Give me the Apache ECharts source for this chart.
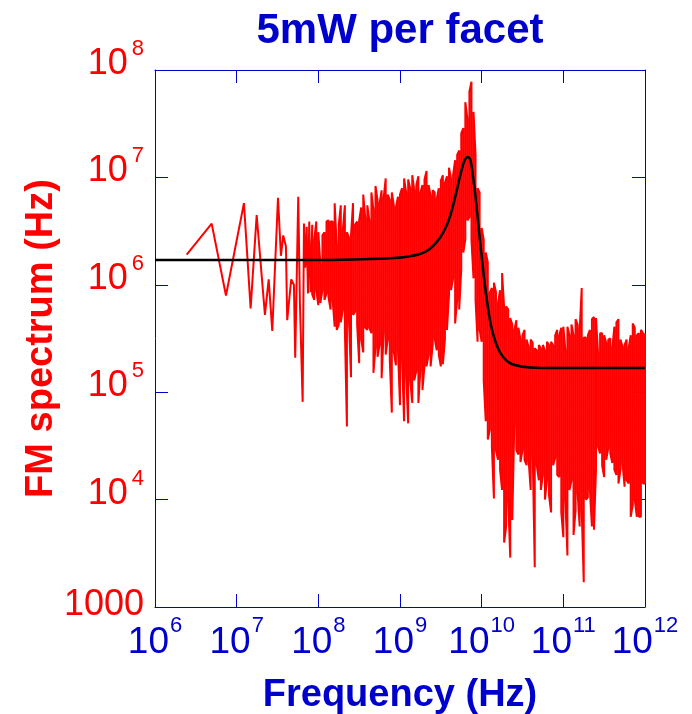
<!DOCTYPE html>
<html>
<head>
<meta charset="utf-8">
<script src="https://cdn.jsdelivr.net/npm/echarts@6/dist/echarts.min.js"></script>
<style>html,body{margin:0;padding:0;background:#fff;}#c{width:692px;height:714px;}</style>
</head>
<body>
<div id="c"></div>
<script>
// ---- data (log10 values) ----
// sparse low-frequency points: log10(frequency), log10(FM spectrum)
var sparseLogF = [6.388,6.694,6.869,7.089,7.171,7.245,7.346,7.392,7.436,7.506,7.542,7.570,7.603,7.619,7.668,7.701,7.717,7.754,7.775,7.808,7.824,7.840,7.857,7.873,7.889,7.905];
var sparseLogV = [6.28,6.57,5.90,6.76,5.78,6.65,5.72,6.05,5.57,6.81,6.27,6.46,6.36,5.67,6.05,6.00,5.32,6.82,5.81,4.91,6.57,6.16,6.54,5.92,6.59,5.93];

// dense region: per frequency bin, upper and lower extent of the noisy trace
var denseLogF = [7.925,7.95,7.975,
8.000,8.025,8.050,8.075,8.100,8.125,8.150,8.175,8.200,8.225,8.250,8.275,8.300,8.325,8.350,8.375,8.400,8.425,8.450,8.475,8.500,8.525,8.550,8.575,8.600,8.625,8.650,8.675,8.700,8.725,8.750,8.775,8.800,8.825,8.850,8.875,8.900,8.925,8.950,8.975,
9.000,9.025,9.050,9.075,9.100,9.125,9.150,9.175,9.200,9.225,9.250,9.275,9.300,9.325,9.350,9.375,9.400,9.425,9.450,9.475,9.500,9.525,9.550,9.575,9.600,9.625,9.650,9.675,9.700,9.725,9.750,9.775,9.800,9.825,9.850,9.875,9.900,9.925,9.950,9.975,
10.000,10.025,10.050,10.075,10.100,10.125,10.150,10.175,10.200,10.225,10.250,10.275,10.300,10.325,10.350,10.375,10.400,10.425,10.450,10.475,10.500,10.525,10.550,10.575,10.600,10.625,10.650,10.675,10.700,10.725,10.750,10.775,10.800,10.825,10.850,10.875,10.900,10.925,10.950,10.975,
11.000,11.025,11.050,11.075,11.100,11.125,11.150,11.175,11.200,11.225,11.250,11.275,11.300,11.325,11.350,11.375,11.400,11.425,11.450,11.475,11.500,11.525,11.550,11.575,11.600,11.625,11.650,11.675,11.700,11.725,11.750,11.775,11.800,11.825,11.850,11.875,11.900,11.925,11.950,11.975,
12.000];
var denseLogHi = [6.56,6.42,6.59,6.49,6.19,6.46,6.49,6.59,6.60,6.59,
6.59,6.76,6.37,6.56,6.74,6.51,6.74,6.49,6.44,6.46,
6.76,6.56,6.59,6.60,6.72,6.84,6.62,6.74,6.60,6.86,
6.70,6.92,6.79,6.76,6.88,6.81,6.99,6.84,6.79,6.86,
6.74,6.72,6.82,6.84,6.90,6.99,6.86,6.98,6.90,7.02,
6.88,6.93,7.01,6.86,6.93,6.98,7.06,6.93,6.83,6.88,
6.86,6.80,6.90,6.97,7.02,6.95,7.01,7.09,6.99,7.02,
7.16,7.21,7.25,7.41,7.46,7.70,7.55,7.80,7.89,7.61,
7.21,6.90,6.86,6.53,6.42,6.30,6.21,5.93,5.97,6.02,
5.93,5.83,5.95,6.11,5.79,5.80,5.77,5.69,5.63,5.58,
5.67,5.60,5.49,5.53,5.58,5.49,5.42,5.49,5.46,5.41,
5.39,5.44,5.41,5.44,5.39,5.47,5.44,5.47,5.44,5.53,
5.58,5.53,5.60,5.61,5.39,5.61,5.53,5.63,5.53,5.68,
5.63,5.58,5.97,5.51,5.51,5.53,5.58,5.68,5.70,5.69,
5.37,5.55,5.55,5.53,5.46,5.49,5.50,5.41,5.61,5.65,
5.68,5.49,5.42,5.44,5.49,5.41,5.53,5.64,5.60,5.53,
5.55,5.58,5.55,5.55];
var denseLogLo = [5.91,5.86,5.95,5.81,5.83,5.95,5.86,5.92,5.88,5.77,
5.86,5.61,5.58,5.63,5.65,5.77,5.58,4.68,5.67,5.14,
5.72,5.75,5.63,5.27,5.49,5.37,5.60,5.58,5.60,5.55,
5.18,5.42,5.33,5.44,5.13,5.56,5.35,5.49,5.30,4.81,
5.37,5.25,5.39,4.88,5.30,4.73,5.16,4.71,5.11,4.90,
5.11,5.20,4.90,5.21,5.02,5.25,5.24,5.35,5.24,5.44,
5.50,5.39,5.35,5.24,5.26,5.49,5.58,5.90,5.95,6.06,
5.64,5.86,5.77,6.14,6.30,6.42,6.60,6.63,6.42,6.06,
5.86,5.47,5.58,5.47,5.11,4.73,4.56,4.65,4.49,4.01,
4.46,4.37,4.28,4.09,3.60,3.75,4.00,3.46,3.81,4.71,
4.46,4.42,4.35,4.46,4.37,4.32,4.37,4.09,4.42,3.37,
4.32,4.18,4.09,4.23,4.00,4.18,4.04,3.88,4.32,4.39,
4.23,4.21,3.88,3.65,4.00,3.48,4.09,4.18,3.67,3.90,
4.06,3.75,3.90,3.23,4.00,4.02,4.09,3.75,3.72,4.28,
4.49,4.43,4.32,4.21,4.37,4.48,4.43,4.34,4.28,4.23,
4.15,4.28,4.34,4.12,4.18,4.15,3.84,3.95,4.00,3.84,
3.84,3.84,4.15,4.15];

// fitted curve (black)
var fitLogF = [6.0,7.163,8.02,8.632,8.876,9.084,9.244,9.366,9.488,9.574,9.635,9.696,9.745,9.788,9.831,9.862,9.892,9.929,9.966,10.002,10.039,10.076,10.113,10.162,10.223,10.309,10.406,10.590,10.957,12.0];
var fitLogV = [6.231,6.231,6.231,6.240,6.247,6.262,6.287,6.333,6.436,6.557,6.696,6.883,7.041,7.153,7.190,7.162,7.022,6.790,6.510,6.250,5.998,5.793,5.626,5.486,5.374,5.291,5.253,5.230,5.225,5.225];

var xTickExps = [6,7,8,9,10,11,12];
var yTickExps = [3,4,5,6,7,8];

var titleText = '5mW per facet';
var xName = 'Frequency (Hz)';
var yName = 'FM spectrum (Hz)';

// ---- build ----
function p10(e){ return Math.pow(10, e); }
var redData = [];
for (var i = 0; i < sparseLogF.length; i++) redData.push([p10(sparseLogF[i]), p10(sparseLogV[i])]);
for (var k = 0; k < denseLogF.length; k++) {
  var f = p10(denseLogF[k]);
  if (k % 2 === 0) { redData.push([f, p10(denseLogHi[k])]); redData.push([f, p10(denseLogLo[k])]); }
  else { redData.push([f, p10(denseLogLo[k])]); redData.push([f, p10(denseLogHi[k])]); }
}
var fitData = fitLogF.map(function(v, i){ return [p10(v), p10(fitLogV[i])]; });

var FONT = "'Liberation Sans', Arial, Helvetica, sans-serif";
var RED = '#ff0000', BLUE = '#0000cc';

function expOf(v){ return Math.round(Math.log(v) / Math.LN10); }

var chart = echarts.init(document.getElementById('c'), null, {renderer: 'canvas'});
chart.setOption({
  animation: false,
  backgroundColor: '#ffffff',
  title: {
    text: titleText, left: 395, top: 5, textAlign: 'center',
    textStyle: {fontFamily: FONT, fontSize: 42, fontWeight: 'bold', color: BLUE}
  },
  grid: {left: 155, right: 47, top: 70, bottom: 107, containLabel: false, outerBoundsMode: 'none'},
  xAxis: [{
    type: 'log', logBase: 10, min: p10(xTickExps[0]), max: p10(xTickExps[xTickExps.length-1]), interval: 1,
    position: 'bottom',
    name: xName, nameLocation: 'middle', nameGap: 70, nameMoveOverlap: false,
    nameTextStyle: {fontFamily: FONT, fontSize: 38, fontWeight: 'bold', color: BLUE},
    axisLine: {show: true, onZero: false, lineStyle: {color: BLUE, width: 1}},
    axisTick: {show: true, inside: true, length: 13, lineStyle: {color: BLUE, width: 1}},
    minorTick: {show: false}, splitLine: {show: false},
    axisLabel: {
      show: true, margin: 8, showMinLabel: true, showMaxLabel: true,
      formatter: function(v){ return '{a|10}{b|' + expOf(v) + '}'; },
      rich: {
        a: {fontFamily: FONT, fontSize: 37, color: BLUE, lineHeight: 46, verticalAlign: 'bottom'},
        b: {fontFamily: FONT, fontSize: 22, color: BLUE, lineHeight: 36, verticalAlign: 'top', padding: [0, 0, 0, 1]}
      }
    }
  }, {
    type: 'log', logBase: 10, min: p10(xTickExps[0]), max: p10(xTickExps[xTickExps.length-1]), interval: 1,
    position: 'top',
    axisLine: {show: true, onZero: false, lineStyle: {color: BLUE, width: 1}},
    axisTick: {show: true, inside: true, length: 13, lineStyle: {color: BLUE, width: 1}},
    axisLabel: {show: false}, splitLine: {show: false}
  }],
  yAxis: [{
    type: 'log', logBase: 10, min: p10(yTickExps[0]), max: p10(yTickExps[yTickExps.length-1]), interval: 1,
    position: 'left',
    name: yName, nameLocation: 'middle', nameGap: 94, nameRotate: 90, nameMoveOverlap: false,
    nameTextStyle: {fontFamily: FONT, fontSize: 38, fontWeight: 'bold', color: RED},
    axisLine: {show: true, onZero: false, lineStyle: {color: BLUE, width: 1}},
    axisTick: {show: true, inside: true, length: 13, lineStyle: {color: BLUE, width: 1}},
    splitLine: {show: false},
    axisLabel: {
      show: true, margin: 11, showMinLabel: true, showMaxLabel: true, padding: [0, 0, 20, 0],
      formatter: function(v){ var e = expOf(v); return e === 3 ? '{c|1000}' : '{a|10}{b|' + e + '}'; },
      rich: {
        a: {fontFamily: FONT, fontSize: 36, color: RED, lineHeight: 44, verticalAlign: 'bottom'},
        b: {fontFamily: FONT, fontSize: 22, color: RED, lineHeight: 38, verticalAlign: 'top', padding: [0, 0, 0, 4]},
        c: {fontFamily: FONT, fontSize: 36, color: RED, lineHeight: 44, padding: [16, 0, 0, 0]}
      }
    }
  }, {
    type: 'log', logBase: 10, min: p10(yTickExps[0]), max: p10(yTickExps[yTickExps.length-1]), interval: 1,
    position: 'right',
    axisLine: {show: true, onZero: false, lineStyle: {color: BLUE, width: 1}},
    axisTick: {show: true, inside: true, length: 13, lineStyle: {color: BLUE, width: 1}},
    axisLabel: {show: false}, splitLine: {show: false}
  }],
  series: [{
    type: 'line', name: 'data', data: redData, showSymbol: false, symbol: 'none',
    lineStyle: {color: RED, width: 2, join: 'bevel'}, z: 2, silent: true
  }, {
    type: 'line', name: 'fit', data: fitData, showSymbol: false, symbol: 'none', smooth: 0.3,
    lineStyle: {color: '#000000', width: 2.5}, z: 3, silent: true
  }]
});
</script>
</body>
</html>
